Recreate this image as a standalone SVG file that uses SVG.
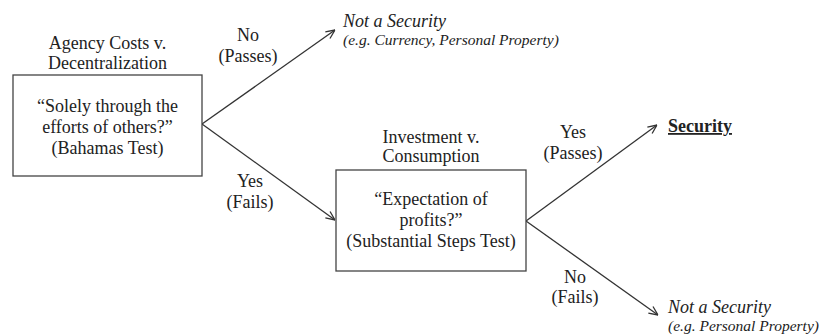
<svg xmlns="http://www.w3.org/2000/svg" width="819" height="335" viewBox="0 0 819 335">
<style>
text{font-family:"Liberation Serif","Times New Roman",serif;font-size:18px;fill:#222}
.c{text-anchor:middle}
.i{font-style:italic}
.s{font-size:15.5px}
.b{font-weight:bold;text-decoration:underline}
.box{fill:#fff;stroke:#444;stroke-width:1.3}
.conn line{stroke:#333;stroke-width:1.3;fill:none}
</style>
<defs>
<marker id="ah" viewBox="0 0 10 10" refX="10" refY="5" markerWidth="10" markerHeight="10" markerUnits="userSpaceOnUse" orient="auto">
<path d="M1,1 L10,5 L1,9" fill="none" stroke="#333" stroke-width="1.3"/>
</marker>
</defs>
<rect width="819" height="335" fill="#fff"/>
<g class="conn" id="connectors">
<line x1="202" y1="124" x2="335" y2="30" marker-end="url(#ah)"/>
<line x1="202" y1="124" x2="335" y2="220" marker-end="url(#ah)"/>
<line x1="526" y1="221" x2="657" y2="125" marker-end="url(#ah)"/>
<line x1="526" y1="221" x2="658" y2="315" marker-end="url(#ah)"/>
</g>
<g id="labels">
<text class="c" x="248" y="41">No</text>
<text class="c" x="248" y="62">(Passes)</text>
<text class="c" x="250" y="187">Yes</text>
<text class="c" x="250" y="208">(Fails)</text>
<text class="c" x="573" y="138">Yes</text>
<text class="c" x="573" y="159">(Passes)</text>
<text class="c" x="575" y="283">No</text>
<text class="c" x="575" y="303">(Fails)</text>
</g>
<g id="node-bahamas">
<text class="c" x="107.5" y="49">Agency Costs v.</text>
<text class="c" x="107.5" y="69">Decentralization</text>
<rect class="box" x="13" y="75" width="189" height="101"/>
<text class="c" x="107.5" y="112">“Solely through the</text>
<text class="c" x="107.5" y="133">efforts of others?”</text>
<text class="c" x="107.5" y="154">(Bahamas Test)</text>
</g>
<g id="node-substantial">
<text class="c" x="431" y="143">Investment v.</text>
<text class="c" x="431" y="162">Consumption</text>
<rect class="box" x="336" y="170" width="190" height="101"/>
<text class="c" x="431" y="205">“Expectation of</text>
<text class="c" x="431" y="226">profits?”</text>
<text class="c" x="431" y="247">(Substantial Steps Test)</text>
</g>
<g id="node-not-security-1">
<text class="i" x="343" y="27">Not a Security</text>
<text class="i s" x="343" y="45">(e.g. Currency, Personal Property)</text>
</g>
<g id="node-security">
<text class="b" x="668" y="132">Security</text>
</g>
<g id="node-not-security-2">
<text class="i" x="668" y="313">Not a Security</text>
<text class="i s" x="668" y="331">(e.g. Personal Property)</text>
</g>
</svg>
